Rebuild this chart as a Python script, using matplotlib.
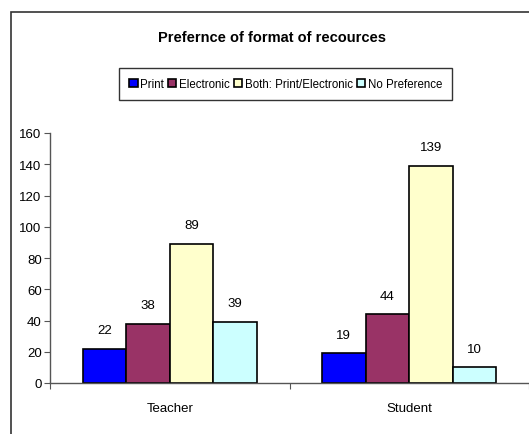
import matplotlib
matplotlib.use("Agg")
import numpy as np
import matplotlib.pyplot as plt
from matplotlib.patches import Rectangle

groups = ["Teacher", "Student"]
formats = ["Print", "Electronic", "Both: Print/Electronic", "No Preference"]
print_vals = [22, 19]
electronic_vals = [38, 44]
both_vals = [89, 139]
nopref_vals = [39, 10]
colors = ["#0000FF", "#993366", "#FFFFCC", "#CCFFFF"]

plt.rcParams["font.family"] = ["Liberation Sans", "DejaVu Sans"]

fig = plt.figure(figsize=(5.29, 4.35), dpi=100)
fig.patches.append(Rectangle((11 / 529, -0.05), 1.2, 0.05 + (435 - 13) / 435,
                             transform=fig.transFigure, fill=False,
                             edgecolor="#333333", linewidth=1.2))

ax = fig.add_axes([50 / 529, 51 / 435, 479 / 529, 250 / 435])

x = np.arange(len(groups))
w = 0.182
series = [print_vals, electronic_vals, both_vals, nopref_vals]
for i, vals in enumerate(series):
    pos = x + (i - 1.5) * w
    ax.bar(pos, vals, width=w, color=colors[i], edgecolor="black",
           linewidth=1.2, label=formats[i])
    for p, v in zip(pos, vals):
        ax.annotate(str(v), (p, v), xytext=(0, 13.5), textcoords="offset points",
                    ha="center", va="center", fontsize=9.5)

ax.set_xlim(-0.5, 1.5)
ax.set_ylim(0, 160)
ax.set_yticks(range(0, 161, 20))
ax.set_xticks([-0.5, 0.5, 1.5])
ax.set_xticklabels([])
ax.set_xticks(x, minor=True)
ax.set_xticklabels(groups, minor=True, fontsize=9.5)
ax.tick_params(axis="x", which="minor", length=0, pad=14)
ax.tick_params(axis="x", which="major", length=4, direction="out", color="#555555")
ax.tick_params(axis="y", length=4, direction="out", labelsize=9.5, pad=2, color="#555555")
for s in ["top", "right"]:
    ax.spines[s].set_visible(False)
for s in ["left", "bottom"]:
    ax.spines[s].set_color("#555555")
    ax.spines[s].set_linewidth(1)

fig.text(0.515, 0.913, "Prefernce of format of recources", ha="center", va="center",
         fontsize=10.5, fontweight="bold")

leg = fig.legend(loc="center", bbox_to_anchor=(0.540, 0.8046), ncol=4,
                 fontsize=8.3, frameon=True, fancybox=False, shadow=False,
                 handlelength=0.75, handleheight=0.75, handletextpad=0.25,
                 columnspacing=0.3, borderpad=0.85, borderaxespad=0)
leg.get_frame().set_edgecolor("black")
leg.get_frame().set_linewidth(1)

plt.savefig("out.png", dpi=100)
